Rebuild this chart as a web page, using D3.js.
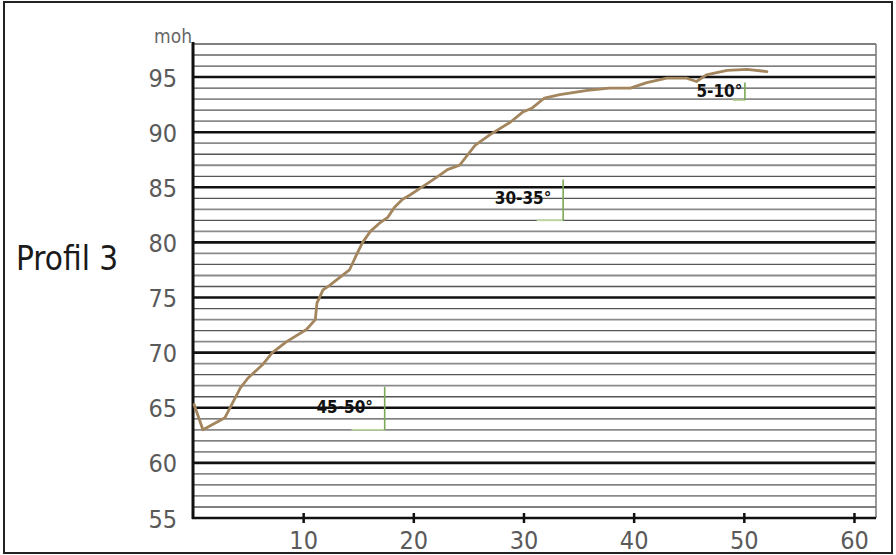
<!DOCTYPE html>
<html>
<head>
<meta charset="utf-8">
<script src="https://cdn.jsdelivr.net/npm/d3@7"></script>
<style>
  html, body { margin: 0; padding: 0; background: #fff; }
  svg { display: block; }
</style>
</head>
<body>
<svg id="chart" width="896" height="555"></svg>
<script>
// ---- data ----
const distance = [0.1, 0.9, 2.9, 4.3, 5.0, 6.3, 7.2, 8.5, 10.3, 11.1, 11.25, 11.8, 12.4, 14.2, 14.9, 15.4, 16.1, 17.0, 17.7, 18.3, 19.0, 19.7, 20.6, 21.5, 22.4, 23.1, 24.2, 25.6, 27.0, 28.8, 29.9, 30.8, 31.9, 33.3, 35.8, 37.8, 39.7, 41.2, 43.0, 44.8, 45.7, 46.6, 48.5, 50.3, 52.1];
const elevation = [65.3, 63.0, 64.1, 66.8, 67.7, 68.9, 70.0, 71.0, 72.1, 73.0, 74.5, 75.7, 76.1, 77.5, 79.0, 80.0, 81.0, 81.8, 82.3, 83.2, 83.9, 84.3, 84.9, 85.5, 86.1, 86.6, 87.0, 88.8, 89.8, 90.9, 91.8, 92.2, 93.1, 93.4, 93.8, 94.0, 94.0, 94.5, 94.9, 94.9, 94.6, 95.2, 95.6, 95.7, 95.5];
const xTicks = [10, 20, 30, 40, 50, 60];
const yTicks = [55, 60, 65, 70, 75, 80, 85, 90, 95];
const minorLines = d3.range(56, 99);
const slopeLabels = ["45-50°", "30-35°", "5-10°"];
const labelX = [11.2, 27.4, 45.7];
const labelY = [64.5, 83.5, 93.2];
const bracketX = [17.4, 33.6, 50.1];
const bracketLeft = [14.4, 31.2, 49.0];
const bracketTop = [66.9, 85.7, 94.5];
const bracketBottom = [63.0, 82.0, 92.9];
const yAxisTitle = "moh";
const chartTitle = "Profil 3";

// ---- chart ----
const svg = d3.select("#chart");
const x = d3.scaleLinear().domain([0, 62]).range([193, 876]);
const y = d3.scaleLinear().domain([55, 98]).range([518, 44]);
const tickFont = "'Liberation Sans Narrow','DejaVu Sans Condensed','Roboto Condensed',sans-serif";

// outer frame
svg.append("rect").attr("x", 4).attr("y", 2).attr("width", 888).attr("height", 551)
  .attr("fill", "none").attr("stroke", "#222").attr("stroke-width", 2);

// minor grid
svg.append("g").selectAll("line").data(minorLines.filter(v => v % 5 !== 0)).join("line")
  .attr("x1", x(0)).attr("x2", x(62))
  .attr("y1", d => y(d)).attr("y2", d => y(d))
  .attr("stroke", d => d % 2 === 0 ? "#555" : "#8a8a8a")
  .attr("stroke-width", d => d % 2 === 0 ? 1.3 : 1.8);

// major grid
svg.append("g").selectAll("line").data(yTicks.filter(v => v > 55)).join("line")
  .attr("x1", x(0)).attr("x2", x(62))
  .attr("y1", d => y(d)).attr("y2", d => y(d))
  .attr("stroke", "#111").attr("stroke-width", 2.6);

// right border
svg.append("line").attr("x1", x(62)).attr("x2", x(62)).attr("y1", y(98)).attr("y2", y(55))
  .attr("stroke", "#777").attr("stroke-width", 1.5);

// y axis (labels only + left line)
const yAxis = d3.axisLeft(y).tickValues(yTicks).tickSize(0).tickPadding(16);
const gy = svg.append("g").attr("transform", `translate(${x(0)},0)`).call(yAxis);
gy.select(".domain").remove();
gy.selectAll("text").attr("font-family", tickFont).attr("font-size", 25)
  .attr("fill", "#5a5a5a").attr("dy", "0.36em");
svg.append("line").attr("x1", x(0)).attr("x2", x(0)).attr("y1", y(98) - 2).attr("y2", y(55) + 1)
  .attr("stroke", "#111").attr("stroke-width", 3);

// x axis
const xAxis = d3.axisBottom(x).tickValues(xTicks).tickSize(5).tickPadding(8);
const gx = svg.append("g").attr("transform", `translate(0,${y(55)})`).call(xAxis);
gx.select(".domain").attr("d", `M${x(0) - 1},0H${x(62)}`).attr("stroke", "#111").attr("stroke-width", 2.5);
gx.selectAll(".tick line").attr("y1", -5).attr("y2", 5).attr("stroke", "#111").attr("stroke-width", 2.5);
gx.selectAll("text").attr("font-family", tickFont).attr("font-size", 25).attr("fill", "#5a5a5a");

// axis title
svg.append("text").attr("x", x(0) - 1).attr("y", y(98) - 1).attr("text-anchor", "end")
  .attr("font-family", tickFont).attr("font-size", 19).attr("fill", "#666").text(yAxisTitle);

// chart title
svg.append("text").attr("x", 16).attr("y", 270)
  .attr("font-family", tickFont).attr("font-size", 33).attr("fill", "#1a1a1a")
  .attr("font-weight", 500).text(chartTitle);

// brackets
const ann = svg.append("g");
slopeLabels.forEach((lab, i) => {
  ann.append("line").attr("x1", x(bracketLeft[i])).attr("x2", x(bracketX[i]))
    .attr("y1", y(bracketBottom[i])).attr("y2", y(bracketBottom[i]))
    .attr("stroke", "#b8d89a").attr("stroke-width", 1.6);
  ann.append("line").attr("x1", x(bracketX[i])).attr("x2", x(bracketX[i]))
    .attr("y1", y(bracketTop[i])).attr("y2", y(bracketBottom[i]))
    .attr("stroke", "#7aaa55").attr("stroke-width", 1.6);
  ann.append("text").attr("x", x(labelX[i])).attr("y", y(labelY[i]))
    .attr("font-family", tickFont).attr("font-size", 17).attr("font-weight", "bold")
    .attr("fill", "#111").text(lab);
});

// profile line
const pts = distance.map((d, i) => [d, elevation[i]]);
svg.append("path").datum(pts)
  .attr("d", d3.line().x(d => x(d[0])).y(d => y(d[1])).curve(d3.curveLinear))
  .attr("fill", "none").attr("stroke", "#a3855e").attr("stroke-width", 2.8)
  .attr("stroke-linejoin", "round").attr("stroke-linecap", "round");
</script>
</body>
</html>
